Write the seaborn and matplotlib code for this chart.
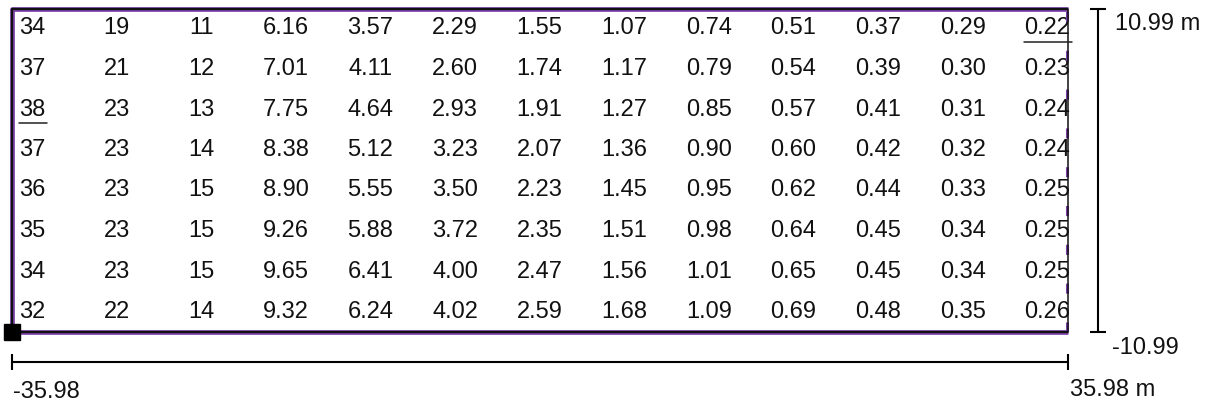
import numpy as np
import pandas as pd
import matplotlib
matplotlib.use("Agg")
import matplotlib.pyplot as plt
from matplotlib.colors import ListedColormap
from matplotlib.lines import Line2D
import seaborn as sns

# ---------------- data ----------------
row_1 = [34, 19, 11, 6.16, 3.57, 2.29, 1.55, 1.07, 0.74, 0.51, 0.37, 0.29, 0.22]
row_2 = [37, 21, 12, 7.01, 4.11, 2.60, 1.74, 1.17, 0.79, 0.54, 0.39, 0.30, 0.23]
row_3 = [38, 23, 13, 7.75, 4.64, 2.93, 1.91, 1.27, 0.85, 0.57, 0.41, 0.31, 0.24]
row_4 = [37, 23, 14, 8.38, 5.12, 3.23, 2.07, 1.36, 0.90, 0.60, 0.42, 0.32, 0.24]
row_5 = [36, 23, 15, 8.90, 5.55, 3.50, 2.23, 1.45, 0.95, 0.62, 0.44, 0.33, 0.25]
row_6 = [35, 23, 15, 9.26, 5.88, 3.72, 2.35, 1.51, 0.98, 0.64, 0.45, 0.34, 0.25]
row_7 = [34, 23, 15, 9.65, 6.41, 4.00, 2.47, 1.56, 1.01, 0.65, 0.45, 0.34, 0.25]
row_8 = [32, 22, 14, 9.32, 6.24, 4.02, 2.59, 1.68, 1.09, 0.69, 0.48, 0.35, 0.26]
rows = [row_1, row_2, row_3, row_4, row_5, row_6, row_7, row_8]

x_min, x_max = -35.98, 35.98   # m
y_min, y_max = -10.99, 10.99   # m

# ---------------- layout (pixels) ----------------
W, H = 1208, 405
FS = 17
FONT = "Liberation Sans"
TXT = "#111111"
PURPLE = "#7a3fa8"

sns.set_theme(style="white")
plt.rcParams["font.family"] = [FONT, "DejaVu Sans"]

fig = plt.figure(figsize=(W / 100, H / 100), dpi=100)

# heatmap grid of values (text centres at regular spacing)
cell_w, cell_h = 84.6, 40.5
cx0, cy0 = 32.0, 26.0
ncols, nrows = len(row_1), len(rows)
left_px = cx0 - cell_w / 2
top_px = cy0 - cell_h / 2
ax_h = fig.add_axes([left_px / W, 1 - (top_px + nrows * cell_h) / H,
                     ncols * cell_w / W, nrows * cell_h / H])

df = pd.DataFrame(rows)
labels = df.map(lambda v: f"{v:.0f}" if v >= 10 else f"{v:.2f}")
sns.heatmap(df, ax=ax_h, annot=labels.values, fmt="", cbar=False,
            cmap=ListedColormap(["white"]), xticklabels=False, yticklabels=False,
            annot_kws=dict(fontsize=FS, color=TXT, family=FONT, va="center_baseline"))
ax_h.axis("off")

# overlay axes in metres
px_per_m_x = 1056 / (x_max - x_min)
px_per_m_y = 323 / (y_max - y_min)
rect_left_px, rect_top_px = 12, 9
ax = fig.add_axes([0, 0, 1, 1])
ax.set_xlim(x_min - rect_left_px / px_per_m_x, x_min + (W - rect_left_px) / px_per_m_x)
ax.set_ylim(y_max - (H - rect_top_px) / px_per_m_y, y_max + rect_top_px / px_per_m_y)
ax.axis("off")
ax.patch.set_alpha(0)

def mx(p):
    return p / px_per_m_x

def my(p):
    return p / px_per_m_y

# calculation surface outline
ax.plot([x_max, x_min, x_min, x_max], [y_max, y_max, y_min, y_min],
        color=PURPLE, lw=3.4, solid_capstyle="butt", zorder=2)
ax.plot([x_max, x_min, x_min, x_max], [y_max, y_max, y_min, y_min],
        color="#111111", lw=1.6, solid_capstyle="butt", zorder=3)
ax.plot([x_max, x_max], [y_min, y_max], color="#111111", lw=1.1, zorder=3)
ax.plot([x_max - mx(1.5), x_max - mx(1.5)], [y_min, y_max], color=PURPLE, lw=2.2,
        dashes=(3.3, 9.4), dash_capstyle="butt", zorder=2)
ax.plot([x_min], [y_min], marker="s", markersize=11.5, color="black", zorder=4)

# dimension lines
vx = x_max + mx(30)
ax.plot([vx, vx], [y_min, y_max], color="black", lw=1.5)
ax.plot([vx, vx], [y_min, y_max], ls="none", marker="_", markersize=11,
        markeredgewidth=1.5, color="black")
hy = y_min - my(30)
ax.plot([x_min, x_max], [hy, hy], color="black", lw=1.5)
ax.plot([x_min, x_max], [hy, hy], ls="none", marker="|", markersize=11,
        markeredgewidth=1.5, color="black")

tk = dict(textcoords="offset pixels", ha="left", va="center_baseline",
          fontsize=FS, color=TXT, family=FONT)
ax.annotate(f"{y_max:.2f} m", xy=(x_max, y_max), xytext=(47, -13), **tk)
ax.annotate(f"{y_min:.2f}", xy=(x_max, y_min), xytext=(44, -14), **tk)
ax.annotate(f"{x_min:.2f}", xy=(x_min, y_min), xytext=(1, -58), **tk)
ax.annotate(f"{x_max:.2f} m", xy=(x_max, y_min), xytext=(2, -56), **tk)

# underline min and max values
fig.canvas.draw()
arr = df.values
texts = ax_h.texts
inv = fig.transFigure.inverted()
for idx in (np.argmax(arr), np.argmin(arr)):
    t = texts[idx]
    bb = t.get_window_extent()
    r, c = divmod(idx, ncols)
    base_y = (H - (cy0 + r * cell_h)) - 8.5  # baseline in display px
    y = base_y - 7
    (x0f, yf) = inv.transform((bb.x0, y))
    (x1f, _) = inv.transform((bb.x1 + 2, y))
    fig.add_artist(Line2D([x0f, x1f], [yf, yf], transform=fig.transFigure,
                          color="#222222", lw=1.1))

fig.savefig("out.png", dpi=100)
